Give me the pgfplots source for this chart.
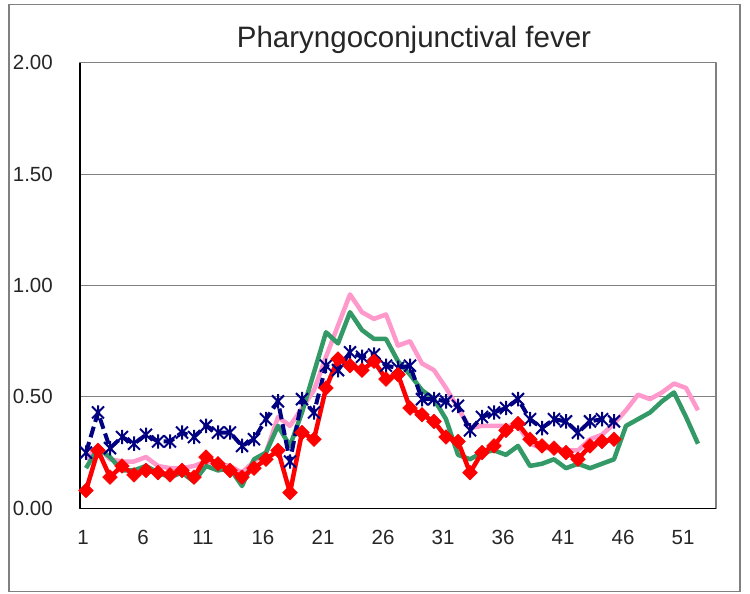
\documentclass[border=0pt]{standalone}
\usepackage{pgfplots}
\pgfplotsset{compat=1.18}
\usepackage{fontspec}
\setmainfont{Liberation Sans}
\definecolor{cnavy}{RGB}{0,0,128}
\definecolor{cpink}{RGB}{255,153,204}
\definecolor{cgreen}{RGB}{51,153,102}
\definecolor{cred}{RGB}{255,0,0}
\definecolor{cframe}{RGB}{128,128,128}
\pgfdeclareplotmark{exstar}{%
  \pgfpathmoveto{\pgfqpoint{-\pgfplotmarksize}{-\pgfplotmarksize}}%
  \pgfpathlineto{\pgfqpoint{\pgfplotmarksize}{\pgfplotmarksize}}%
  \pgfpathmoveto{\pgfqpoint{-\pgfplotmarksize}{\pgfplotmarksize}}%
  \pgfpathlineto{\pgfqpoint{\pgfplotmarksize}{-\pgfplotmarksize}}%
  \pgfpathmoveto{\pgfqpoint{0pt}{-1.2\pgfplotmarksize}}%
  \pgfpathlineto{\pgfqpoint{0pt}{1.2\pgfplotmarksize}}%
  \pgfusepathqstroke}
\begin{document}
\begin{tikzpicture}
\path[use as bounding box] (0,0) rectangle (750bp,594bp);
\fill[white] (0,0) rectangle (750bp,594bp);
\draw[cframe, line width=1.2bp] (9bp,2.3bp) rectangle (740bp,589.7bp);
\node[font=\fontsize{29.5bp}{34bp}\selectfont, text=black!85, anchor=base, inner sep=0pt] at (414bp,546bp) {Pharyngoconjunctival fever};
\begin{axis}[
  at={(80bp,85.7bp)}, anchor=south west,
  scale only axis, width=636bp, height=445.6bp,
  xmin=0.5, xmax=53.5, ymin=0, ymax=2,
  clip=false,
  axis line style={draw=cframe, line width=1.5bp},
  xtick={1,6,...,51},
  xtick style={draw=none},
  extra x ticks={5.5,10.5,...,50.5},
  extra x tick labels={},
  extra x tick style={grid=none, tick style={draw=black!70, line width=0.8bp}, major tick length=5bp},
  tick align=inside,
  ytick={0,0.5,...,2},
  ytick style={draw=none},
  ymajorgrids,
  grid style={cframe, line width=1bp},
  /pgf/number format/assume math mode=true,
  ticklabel style={font=\fontsize{20.5bp}{24bp}\selectfont, text=black!85},
  xticklabel style={anchor=north, inner sep=0pt, yshift=-22bp, xshift=-3bp},
  yticklabel style={anchor=east, inner sep=0pt, xshift=-27bp,
    /pgf/number format/.cd, fixed, fixed zerofill, precision=2},
  line join=round,
]
\draw[black, line width=1.3bp] (rel axis cs:0,1) -- (rel axis cs:0,0) -- (rel axis cs:1,0);
% pink
\addplot[cpink, line width=4.5bp, mark=none] table {
x y
1 0.22
2 0.28
3 0.22
4 0.21
5 0.21
6 0.23
7 0.19
8 0.18
9 0.18
10 0.19
11 0.21
12 0.20
13 0.19
14 0.16
15 0.21
16 0.25
17 0.41
18 0.37
19 0.45
20 0.53
21 0.68
22 0.82
23 0.96
24 0.88
25 0.85
26 0.87
27 0.73
28 0.75
29 0.65
30 0.62
31 0.54
32 0.45
33 0.36
34 0.37
35 0.37
36 0.37
37 0.37
38 0.29
39 0.27
40 0.27
41 0.26
42 0.26
43 0.31
44 0.33
45 0.38
46 0.44
47 0.51
48 0.49
49 0.52
50 0.56
51 0.54
52 0.44
};
% green
\addplot[cgreen, line width=4.5bp, mark=none] table {
x y
1 0.18
2 0.27
3 0.23
4 0.17
5 0.17
6 0.19
7 0.16
8 0.14
9 0.16
10 0.12
11 0.19
12 0.17
13 0.18
14 0.10
15 0.22
16 0.25
17 0.37
18 0.28
19 0.43
20 0.61
21 0.79
22 0.74
23 0.88
24 0.80
25 0.76
26 0.76
27 0.66
28 0.60
29 0.53
30 0.49
31 0.40
32 0.24
33 0.22
34 0.25
35 0.26
36 0.24
37 0.28
38 0.19
39 0.20
40 0.22
41 0.18
42 0.20
43 0.18
44 0.20
45 0.22
46 0.37
47 0.40
48 0.43
49 0.48
50 0.52
51 0.41
52 0.29
};
% navy
\addplot[cnavy, line width=4bp, dash pattern=on 11bp off 5bp, mark=exstar, mark size=6bp,
  mark options={solid, line width=2bp}] table {
x y
1 0.25
2 0.43
3 0.27
4 0.32
5 0.29
6 0.33
7 0.30
8 0.30
9 0.34
10 0.32
11 0.37
12 0.34
13 0.34
14 0.28
15 0.31
16 0.40
17 0.48
18 0.21
19 0.49
20 0.43
21 0.64
22 0.62
23 0.70
24 0.68
25 0.69
26 0.64
27 0.63
28 0.64
29 0.49
30 0.49
31 0.48
32 0.46
33 0.35
34 0.41
35 0.43
36 0.45
37 0.49
38 0.40
39 0.36
40 0.40
41 0.39
42 0.34
43 0.39
44 0.40
45 0.39
};
% red
\addplot[cred, line width=4.5bp, mark=square*, mark size=5.2bp,
  mark options={solid, rotate=45, fill=cred, draw=cred, line width=0.5bp}] table {
x y
1 0.08
2 0.26
3 0.14
4 0.19
5 0.15
6 0.17
7 0.16
8 0.15
9 0.17
10 0.14
11 0.23
12 0.20
13 0.17
14 0.14
15 0.18
16 0.22
17 0.26
18 0.07
19 0.34
20 0.31
21 0.54
22 0.67
23 0.64
24 0.62
25 0.66
26 0.58
27 0.60
28 0.45
29 0.42
30 0.39
31 0.32
32 0.30
33 0.16
34 0.25
35 0.28
36 0.35
37 0.38
38 0.31
39 0.28
40 0.27
41 0.25
42 0.22
43 0.28
44 0.30
45 0.31
};
\end{axis}
\end{tikzpicture}
\end{document}
